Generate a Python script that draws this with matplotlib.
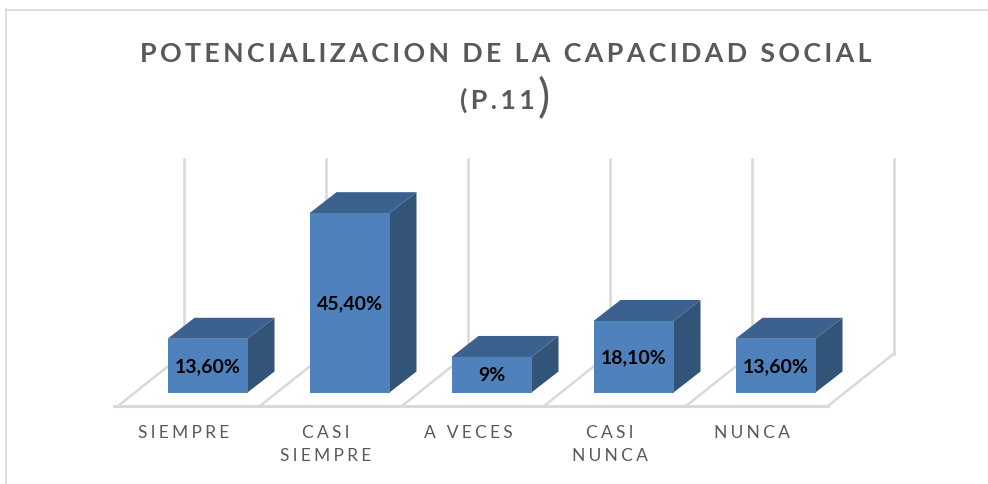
import matplotlib
matplotlib.use("Agg")
import matplotlib.pyplot as plt
from matplotlib.patches import Polygon
from matplotlib.lines import Line2D

# Chart data
categories = ["SIEMPRE", "CASI\nSIEMPRE", "A VECES", "CASI\nNUNCA", "NUNCA"]
values = [13.6, 45.4, 9.0, 18.1, 13.6]
value_labels = ["13,60%", "45,40%", "9%", "18,10%", "13,60%"]

# Pixel layout of the fake 3D plot
WIDTH, HEIGHT = 988, 485
STEP_PX = 142.0
PX_PER_UNIT = 3.95
X0_PX = 207.5
Y0_PX = 392.0
Y_NUDGE = 1.5

BAR_W = 80 / STEP_PX
BAR_DX = 27 / STEP_PX
BAR_DY = 21 / PX_PER_UNIT
FLOOR_LEFT = (118 - X0_PX) / STEP_PX
FLOOR_EDGE = (114 - X0_PX) / STEP_PX
FLOOR_FRONT = (Y0_PX - 405.5) / PX_PER_UNIT
FLOOR_BACK = (Y0_PX - 353) / PX_PER_UNIT
FLOOR_DX = 66 / STEP_PX
WALL_TOP = (Y0_PX - 158) / PX_PER_UNIT

GRID = "#d9d9d9"
FRONT = "#4f81bd"
TOP = "#3b618f"
SIDE = "#325479"
TEXT = "#595959"
FONT = ["Lato", "DejaVu Sans"]
THIN = "\u2009"
WIDE = "\u2009\u200a"


def spaced(text, sep=THIN):
    """Put thin spaces between letters, the original text is tracked out."""
    return "\n".join(sep.join(line) for line in text.split("\n"))


def draw_floor_and_walls(ax):
    """Draw the grey floor diagonals, front edge and back wall lines."""
    for i in range(len(categories) + 1):
        x = FLOOR_LEFT + i * 1.0
        back = x + FLOOR_DX
        ax.plot([x, back], [FLOOR_FRONT, FLOOR_BACK], color=GRID, lw=1.8, zorder=1)
        ax.plot([back, back], [FLOOR_BACK, WALL_TOP], color=GRID, lw=1.8, zorder=1)
    ax.plot([FLOOR_EDGE, FLOOR_LEFT + len(categories)], [FLOOR_FRONT, FLOOR_FRONT],
            color=GRID, lw=2.2, zorder=1)


def draw_bar(ax, i, value):
    """Draw one extruded bar: side, top and front faces."""
    left = i - BAR_W / 2
    right = i + BAR_W / 2
    side = [(right, 0), (right + BAR_DX, BAR_DY), (right + BAR_DX, value + BAR_DY), (right, value)]
    top = [(left, value), (right, value), (right + BAR_DX, value + BAR_DY), (left + BAR_DX, value + BAR_DY)]
    front = [(left, 0), (right, 0), (right, value), (left, value)]
    ax.add_patch(Polygon(side, closed=True, fc=SIDE, ec="none", zorder=3))
    ax.add_patch(Polygon(top, closed=True, fc=TOP, ec="none", zorder=3))
    ax.add_patch(Polygon(front, closed=True, fc=FRONT, ec="none", zorder=4))


def main():
    fig = plt.figure(figsize=(WIDTH / 100, HEIGHT / 100), dpi=100)
    ax = fig.add_axes([0, 0, 1, 1])
    ax.set_xlim((0 - X0_PX) / STEP_PX, (WIDTH - X0_PX) / STEP_PX)
    ax.set_ylim((Y0_PX + Y_NUDGE - HEIGHT) / PX_PER_UNIT, (Y0_PX + Y_NUDGE) / PX_PER_UNIT)
    ax.axis("off")

    # Chart area border, only top and left are visible in the crop
    fig.add_artist(Line2D([5.5 / WIDTH, 5.5 / WIDTH], [0, 1 - 10 / HEIGHT], color=GRID, lw=1.2))
    fig.add_artist(Line2D([5.5 / WIDTH, 1], [1 - 10.5 / HEIGHT, 1 - 10.5 / HEIGHT], color=GRID, lw=1.2))

    draw_floor_and_walls(ax)

    for i, (value, label) in enumerate(zip(values, value_labels)):
        draw_bar(ax, i, value)
        ax.text(i, value / 2, label, ha="center", va="center", fontsize=14,
                fontweight="bold", color="black", family=FONT, zorder=5)

    # Category labels sit under the back wall lines
    label_y = (Y0_PX - 424) / PX_PER_UNIT
    for i, name in enumerate(categories):
        ax.text(i - 0.165, label_y, spaced(name, WIDE), ha="center", va="top", fontsize=12.5,
                color=TEXT, family=FONT, linespacing=1.52, zorder=5)

    # Title, the closing bracket of the second line is much larger
    fig.text(505.5 / WIDTH, 1 - 54 / HEIGHT, spaced("POTENCIALIZACION DE LA CAPACIDAD SOCIAL"),
             ha="center", va="center", fontsize=19.25, fontweight="bold", color=TEXT, family=FONT)
    fig.text(497 / WIDTH, 1 - 100 / HEIGHT, spaced("(P.11"),
             ha="center", va="center", fontsize=19.25, fontweight="bold", color=TEXT, family=FONT)
    fig.text(544 / WIDTH, 1 - 99 / HEIGHT, ")",
             ha="center", va="center", fontsize=33, color=TEXT, family=FONT)

    fig.savefig("out.png", dpi=100)


if __name__ == "__main__":
    main()
